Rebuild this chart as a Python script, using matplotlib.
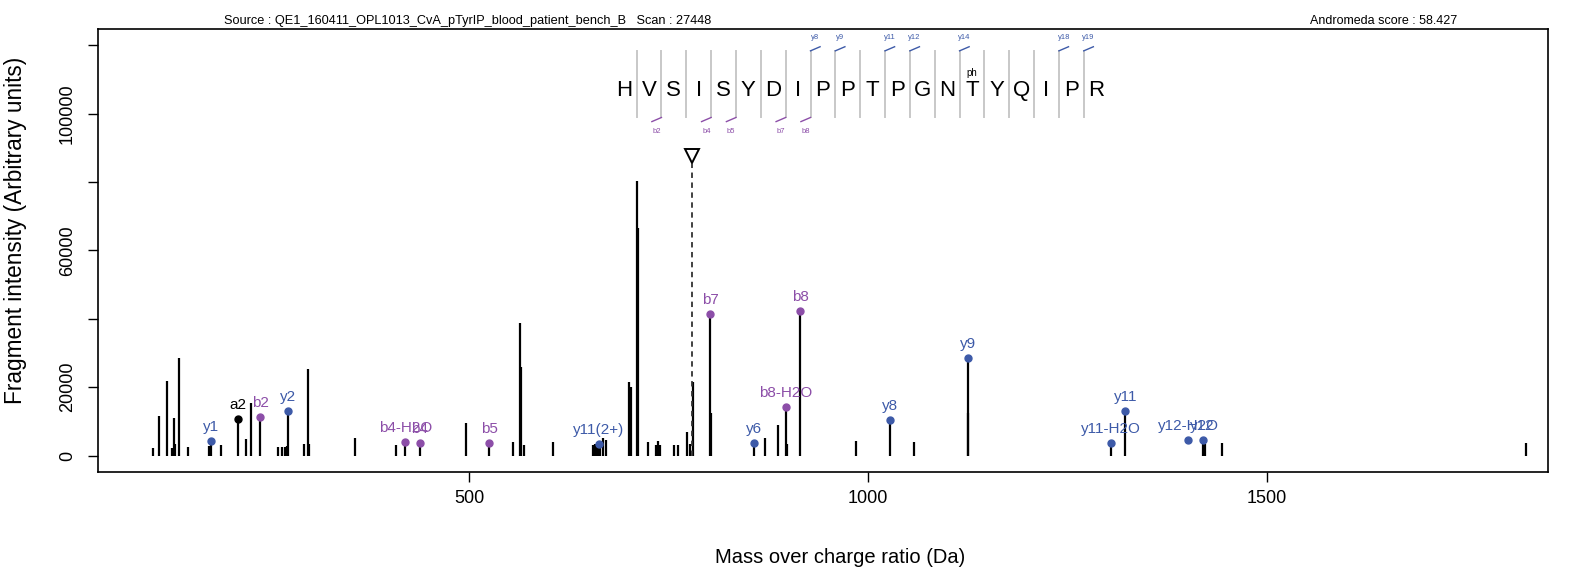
import matplotlib.pyplot as plt
import numpy as np

plt.rcParams['font.family'] = ['Liberation Sans', 'DejaVu Sans']

# raw spectrum peaks (m/z, intensity)
mz = [104.4, 111.5, 122.0, 127.7, 130.2, 131.5, 137.0, 148.3, 174.6, 176.2,
      189.0, 210.0, 220.0, 226.3, 238.4, 260.0, 266.0, 269.2, 272.0, 273.5,
      293.5, 297.6, 299.3, 357.4, 408.2, 420.0, 438.3, 496.4, 525.2, 555.6,
      564.4, 565.0, 569.0, 605.3, 655.5, 657.5, 660.0, 662.4, 664.5, 667.4,
      671.7, 701.0, 702.5, 710.9, 711.5, 724.0, 735.0, 737.0, 739.0, 757.5,
      762.0, 773.0, 777.2, 780.3, 802.7, 803.5, 857.4, 871.6, 887.5, 897.5,
      899.0, 915.4, 985.1, 1028.0, 1057.3, 1125.3, 1126.0, 1304.8, 1322.8, 1419.6,
      1421.5, 1423.0, 1443.8, 1825.0]
intensity = [2100, 11500, 21700, 2200, 11100, 3400, 28400, 2600, 2800, 4200,
             3000, 10800, 4800, 15500, 11400, 2600, 2600, 2600, 2800, 13000,
             3400, 25200, 3400, 5200, 3100, 4100, 3600, 9600, 3600, 3900,
             38900, 25900, 3000, 3900, 3200, 3300, 3500, 3400, 3500, 5100,
             4700, 21600, 20200, 80400, 66700, 3900, 3200, 4400, 3200, 3200,
             3200, 6800, 3400, 21600, 41300, 12500, 3700, 5000, 9000, 14300,
             3400, 42300, 4300, 10500, 4100, 28500, 12500, 3600, 13100, 4500,
             3400, 3400, 3600, 3600]

# annotated fragment ions
ion_labels = ['y1', 'a2', 'b2', 'y2', 'b4-H2O', 'b4', 'b5', 'y11(2+)', 'b7', 'y6',
              'b8-H2O', 'b8', 'y8', 'y9', 'y11-H2O', 'y11', 'y12-H2O', 'y12']
ion_mz = [176.2, 210.0, 238.4, 273.5, 420.0, 438.3, 525.2, 662.4, 802.7, 857.4,
          897.5, 915.4, 1028.0, 1125.3, 1304.8, 1322.8, 1401.7, 1419.6]
ion_int = [4200, 10800, 11400, 13000, 4100, 3600, 3600, 3400, 41300, 3700,
           14300, 42300, 10500, 28500, 3600, 13100, 4500, 4500]
ion_type = ['y', 'a', 'b', 'y', 'b', 'b', 'b', 'y', 'b', 'y',
            'b', 'b', 'y', 'y', 'y', 'y', 'y', 'y']

precursor_mz = 779.3
precursor_int = 87700

sequence = list('HVSISYDIPPTPGNTYQIPR')
b_breaks = [2, 4, 5, 7, 8]
y_breaks = [8, 9, 11, 12, 14, 18, 19]
phospho_site = 15

colors = {'y': '#3d5aa8', 'b': '#8c4ea8', 'a': 'black'}

fig = plt.figure(figsize=(15.76, 5.69), dpi=100)
ax = fig.add_axes([0.0622, 0.1705, 0.9198, 0.7786])

ax.vlines(mz, 0, intensity, color='black', lw=1.6)

for lab, x, y, t in zip(ion_labels, ion_mz, ion_int, ion_type):
    ax.plot(x, y, 'o', color=colors[t], ms=5)
    ax.annotate(lab, (x, y), xytext=(0, 5), textcoords='offset points',
                ha='center', va='bottom', fontsize=11, color=colors[t])

# precursor
ax.plot([precursor_mz, precursor_mz], [0, 86000], color='#333333', lw=1.3,
        ls=(0, (3, 2.5)))
ax.plot(precursor_mz, precursor_int, marker='v', mfc='white', mec='black',
        ms=10, mew=1.4)

# peptide sequence annotation
start, step = 694.5, 31.14
for i, aa in enumerate(sequence):
    xc = start + step * i
    ax.text(xc, 106700, aa, ha='center', va='center', fontsize=16)
    if i + 1 == phospho_site:
        ax.text(xc, 111900, 'ph', ha='center', va='center', fontsize=7)
for k in range(1, len(sequence)):
    xs = start + step * (k - 0.5)
    ax.plot([xs, xs], [98900, 118400], color='#c8c8c8', lw=1.4)
    if k in b_breaks:
        ax.plot([xs - 12, xs], [97700, 98900], color=colors['b'], lw=1)
        ax.text(xs - 6, 94700, 'b%d' % k, ha='center', va='center',
                fontsize=5.5, color=colors['b'])
    if k in y_breaks:
        ax.plot([xs, xs + 12], [118400, 119600], color=colors['y'], lw=1)
        ax.text(xs + 6, 122300, 'y%d' % k, ha='center', va='center',
                fontsize=5.5, color=colors['y'])

ax.set_xlim(35, 1852)
ax.set_ylim(-4800, 124800)
ax.set_xticks([500, 1000, 1500])
ax.set_yticks(np.arange(0, 120001, 20000))
ax.set_yticklabels(['0', '20000', '', '60000', '', '100000', ''],
                   rotation=90, va='center')
ax.tick_params(labelsize=13, length=7, width=1, pad=6)
ax.tick_params(axis='y', pad=9)
for s in ax.spines.values():
    s.set_linewidth(1.2)

ax.set_xlabel('Mass over charge ratio (Da)', fontsize=14.5)
ax.set_ylabel('Fragment intensity (Arbitrary units)', fontsize=16.3)
ax.xaxis.set_label_coords(0.512, -0.172)
ax.yaxis.set_label_coords(-0.049, 0.545)

ax.text(0.2547, 1.005, 'Source : QE1_160411_OPL1013_CvA_pTyrIP_blood_patient_bench_B   Scan : 27448',
        transform=ax.transAxes, ha='center', va='bottom', fontsize=9.2)
ax.text(0.887, 1.005, 'Andromeda score : 58.427', transform=ax.transAxes,
        ha='center', va='bottom', fontsize=9)

plt.savefig('out.png', dpi=100)
